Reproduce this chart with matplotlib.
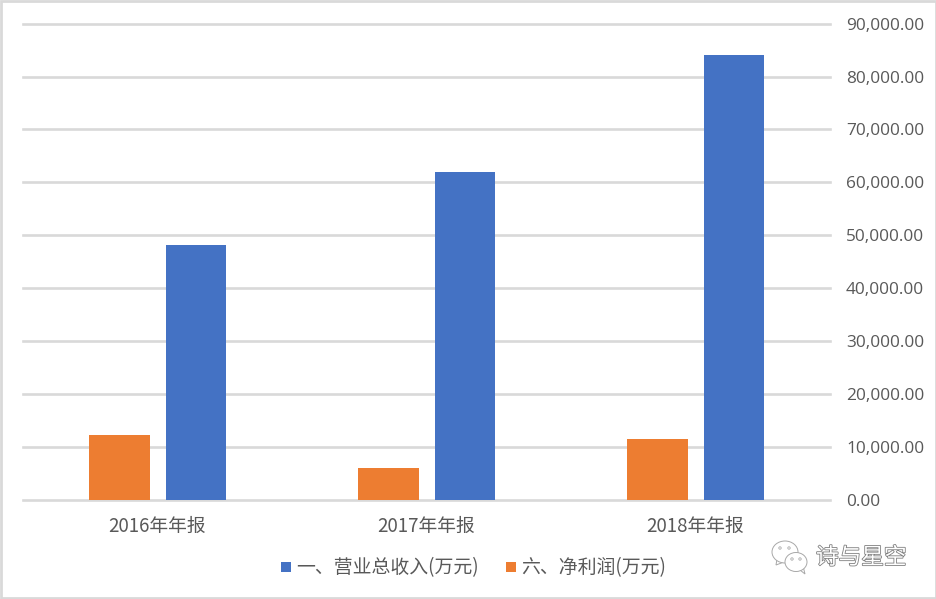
import matplotlib
matplotlib.use("Agg")
import matplotlib.pyplot as plt
import matplotlib.patheffects as pe
from matplotlib.patches import Ellipse, Rectangle, Polygon
from matplotlib.ticker import FuncFormatter

plt.rcParams['font.family'] = ['Noto Sans CJK SC', 'DejaVu Sans']

categories = ['2016年年报', '2017年年报', '2018年年报']
revenue = [48100, 62000, 84000]
profit = [12200, 6000, 11400]
ticks = [0, 10000, 20000, 30000, 40000, 50000, 60000, 70000, 80000, 90000]
rev_name = '一、营业总收入(万元)'
profit_name = '六、净利润(万元)'

W, H = 937, 599
fig = plt.figure(figsize=(W/100, H/100), dpi=100, facecolor='white')
ax = fig.add_axes([23/W, 1-499.6/H, (830-23)/W, (499.6-23.7)/H])
ax.set_xlim(-0.5, 2.5)
ax.set_ylim(0, 90000)
xs = range(3)
off = 38.25/269
w = 60.5/269
shift = 0.1/269
ax.bar([x-off+shift for x in xs], profit, w, color='#ED7D31', zorder=3)
ax.bar([x+off+shift for x in xs], revenue, w, color='#4472C4', zorder=3)
ax.set_yticks(ticks)
ax.yaxis.tick_right()
ax.yaxis.set_major_formatter(FuncFormatter(lambda v, p: f'{v:,.2f}'))
ax.grid(axis='y', color='#D9D9D9', lw=1.9, zorder=1)
ax.set_axisbelow(True)
ax.set_xticks(list(xs))
ax.set_xticklabels(categories)
ax.tick_params(axis='both', length=0, labelcolor='#595959')
ax.tick_params(axis='y', pad=11.5, labelsize=12.4)
ax.tick_params(axis='x', pad=12, labelsize=13.5)
for lab in ax.get_yticklabels():
    lab.set_fontfamily(['Open Sans', 'DejaVu Sans'])
for s in ax.spines.values():
    s.set_visible(False)
for g in ax.get_ygridlines():
    g.set_clip_on(False)

# overlay in pixel coordinates
ov = fig.add_axes([0, 0, 1, 1], facecolor='none')
ov.set_xlim(0, W)
ov.set_ylim(H, 0)
ov.axis('off')
ov.add_patch(Rectangle((1, 1), W-2, H-2, fill=False, ec='#D9D9D9', lw=2))
ov.add_patch(Rectangle((281, 562), 10, 10, fc='#4472C4', ec='none'))
ov.text(296, 567.5, rev_name, va='center', ha='left', fontsize=13.6, color='#595959')
ov.add_patch(Rectangle((506, 562), 10, 10, fc='#ED7D31', ec='none'))
ov.text(521, 567.5, profit_name, va='center', ha='left', fontsize=13.6, color='#595959')

# watermark
halo = [pe.withStroke(linewidth=1.2, foreground='#808080')]
ov.text(816, 557.5, '诗与星空', va='center', ha='left', fontsize=16.3, color='white', path_effects=halo)
edge = '#A8A8A8'
ov.add_patch(Polygon([(777, 559), (776, 565), (784, 562)], fc='white', ec=edge, lw=0.7))
ov.add_patch(Ellipse((785, 552), 26, 22, fc='white', ec=edge, lw=0.7))
ov.add_patch(Polygon([(800, 570), (805, 574), (803, 566)], fc='white', ec=edge, lw=0.7))
ov.add_patch(Ellipse((796, 562), 22, 19, fc='white', ec=edge, lw=0.7))
for ex, ey in [(780, 548), (789, 548), (792, 559), (800, 559)]:
    ov.add_patch(Ellipse((ex, ey), 2.4, 2.4, fc='white', ec=edge, lw=0.6))

fig.savefig('out.png', dpi=100, facecolor='white')
